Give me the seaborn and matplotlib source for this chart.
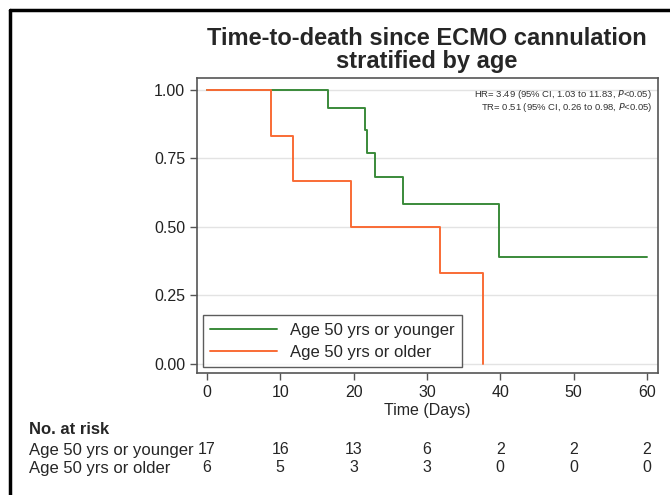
import pandas as pd
import seaborn as sns
import matplotlib.pyplot as plt
from matplotlib.lines import Line2D

# Kaplan-Meier step points
young_days = [0, 16.5, 21.6, 21.8, 22.9, 26.7, 39.8, 60]
young_surv = [1.0, 0.935, 0.854, 0.769, 0.681, 0.584, 0.389, 0.389]
old_days = [0, 8.8, 11.7, 19.6, 31.8, 37.7]
old_surv = [1.0, 0.833, 0.667, 0.5, 0.333, 0.0]

groups = ['Age 50 yrs or younger', 'Age 50 yrs or older']
group_colors = ['#3a8a3a', '#f96b35']

# Number at risk table
risk_times = [0, 10, 20, 30, 40, 50, 60]
risk_young = [17, 16, 13, 6, 2, 2, 2]
risk_old = [6, 5, 3, 3, 0, 0, 0]

stats_lines = ['HR= 3.49 (95% CI, 1.03 to 11.83, $\\it{P}$<0.05)',
               'TR= 0.51 (95% CI, 0.26 to 0.98, $\\it{P}$<0.05)']

df = pd.concat([
    pd.DataFrame({'days': young_days, 'surv': young_surv, 'group': groups[0]}),
    pd.DataFrame({'days': old_days, 'surv': old_surv, 'group': groups[1]}),
])

sns.set_style('white')
plt.rcParams['font.family'] = ['Liberation Sans', 'DejaVu Sans']

fig = plt.figure(figsize=(6.7, 4.95), dpi=100)
ax = fig.add_axes([0.294, 0.2465, 0.688, 0.596])

sns.lineplot(data=df, x='days', y='surv', hue='group', palette=group_colors,
             estimator=None, sort=False, drawstyle='steps-post', linewidth=1.4, ax=ax)

ax.set_xlim(-1.36, 61.5)
ax.set_ylim(-0.033, 1.044)
ax.set_xticks(risk_times)
ax.set_yticks([0, 0.25, 0.5, 0.75, 1.0])
ax.set_yticklabels(['0.00', '0.25', '0.50', '0.75', '1.00'])
ax.yaxis.grid(True, color='#e3e3e3', linewidth=1)
ax.set_axisbelow(True)
for s in ax.spines.values():
    s.set_color('#555555')
    s.set_linewidth(1.2)
ax.tick_params(axis='both', direction='out', length=5, width=1, color='#555555',
               labelsize=11.5, labelcolor='#222222', left=True, bottom=True)
ax.set_xlabel('Time (Days)', fontsize=11.5, labelpad=2)
ax.set_ylabel('')

handles = [Line2D([], [], color=c, linewidth=1.4) for c in group_colors]
leg = ax.legend(handles, groups, loc='lower left', bbox_to_anchor=(0.013, 0.02),
                borderaxespad=0, fontsize=12, frameon=True, fancybox=False,
                handlelength=4.0, borderpad=0.45, labelspacing=0.4, handletextpad=0.75)
leg.get_frame().set_edgecolor('#333333')
leg.get_frame().set_linewidth(1.0)

# HR / TR annotations, one text per line to keep them tight
for i, line in enumerate(stats_lines):
    ax.text(0.987, (373 - 95 - 13 * i) / 295, line, transform=ax.transAxes,
            ha='right', va='center', fontsize=6.8, color='#333333')

fig.text(427 / 670, 1 - 27 / 495, 'Time-to-death since ECMO cannulation\nstratified by age',
         ha='center', va='top', fontsize=17, fontweight='bold', linespacing=1.0)

# Number at risk rows
tr = ax.get_xaxis_transform()
fig.text(29 / 670, 1 - 430 / 495, 'No. at risk', fontsize=12, fontweight='bold', va='center')
fig.text(29 / 670, 1 - 450 / 495, groups[0], fontsize=12, va='center')
fig.text(29 / 670, 1 - 468 / 495, groups[1], fontsize=12, va='center')
for t, a, b in zip(risk_times, risk_young, risk_old):
    ax.text(t, (373 - 450) / 295, str(a), transform=tr, ha='center', va='center', fontsize=11.5)
    ax.text(t, (373 - 468) / 295, str(b), transform=tr, ha='center', va='center', fontsize=11.5)

# Outer black frame (left and top edges)
fig.add_artist(Line2D([10 / 670, 10 / 670], [0, 1 - 10 / 495], color='black', linewidth=2.5,
                      transform=fig.transFigure))
fig.add_artist(Line2D([10 / 670, 1], [1 - 10 / 495, 1 - 10 / 495], color='black', linewidth=2.5,
                      transform=fig.transFigure))

fig.savefig('out.png', dpi=100)
